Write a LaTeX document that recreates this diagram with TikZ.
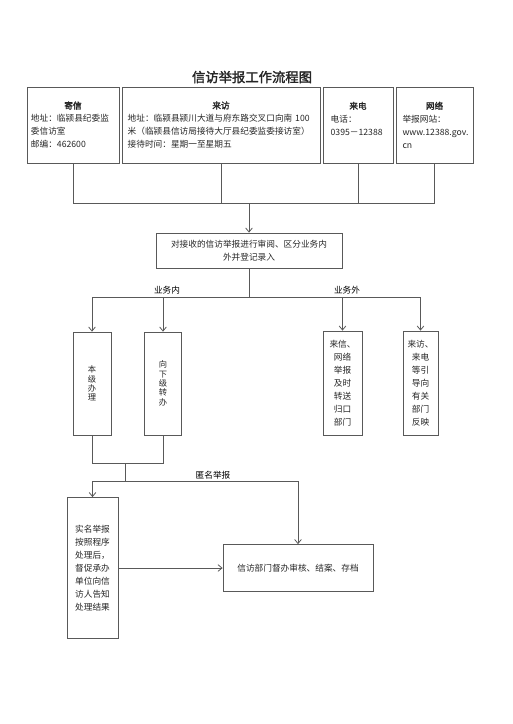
\documentclass[tikz,border=0pt]{standalone}
\usepackage{fontspec}
\setmainfont[AutoFakeBold=2]{Noto Sans CJK SC}
\usepackage{xcolor}
\usepackage{tikz}
\usetikzlibrary{arrows.meta,positioning}

\begin{document}
\begin{tikzpicture}[
    x=0.75pt, y=-0.75pt,
    font=\fontsize{6.5}{9.75}\selectfont,
    box/.style={rectangle, draw=black!65, line width=0.6pt, text=black!85, inner sep=2pt},
    info/.style={box, minimum height=57pt, align=left},
    upright/.style={box, align=center},
    line/.style={draw=black!65, line width=0.6pt},
    arrow/.style={line, -{Straight Barb[length=3pt,width=5pt]}}
  ]
    \useasboundingbox (0,0) rectangle (512,724);
    \node[font=\fontsize{10}{12}\selectfont\bfseries, text=black!85] (title) at (252,77) {信访举报工作流程图};
    % four ways in
    \node[info, minimum width=69pt, text width=63pt] (jixin) at (73,125)
      {\hspace*{\fill}\textbf{寄信}\hspace*{\fill}\null\\地址：临颍县纪委监\\委信访室\\邮编：462600};
    \node[info, minimum width=148.5pt, text width=140pt] (laifang) at (221,125)
      {\hspace*{\fill}\textbf{来访}\hspace*{\fill}\null\\地址：临颍县颍川大道与府东路交叉口向南~100\\米（临颍县信访局接待大厅县纪委监委接访室）\\接待时间：星期一至星期五};
    \node[info, minimum width=52.5pt, text width=41pt] (laidian) at (358,125)
      {\hspace*{\fill}\textbf{来电}\hspace*{\fill}\null\\电话：\\0395－12388\\\mbox{}};
    \node[info, minimum width=57.75pt, text width=48pt] (wangluo) at (434.5,125)
      {\hspace*{\fill}\textbf{网络}\hspace*{\fill}\null\\举报网站：\\www.12388.gov.\\cn};
    \node[upright, minimum width=139.5pt, minimum height=26.25pt] (dengji) at (249,250.5)
      {对接收的信访举报进行审阅、区分业务内\\外并登记录入};
    % branches
    \node (yewunei) at (167,290) {业务内};
    \node (yewuwai) at (347,290) {业务外};
    \node[upright, minimum width=28.5pt, minimum height=77.25pt, font=\fontsize{6.2}{7}\selectfont] (bjbl) at (92,383.5) {本\\级\\办\\理};
    \node[upright, minimum width=27.75pt, minimum height=77.25pt, font=\fontsize{6.2}{7}\selectfont] (xxjzb) at (163,383.5) {向\\下\\级\\转\\办};
    \node[upright, minimum width=29.25pt, minimum height=78pt] (lxzs) at (342.5,383) {来信、\\网络\\举报\\及时\\转送\\归口\\部门};
    \node[upright, minimum width=26.25pt, minimum height=78pt] (lfyd) at (420.5,383) {来访、\\来电\\等引\\导向\\有关\\部门\\反映};
    \node (niming) at (213,475) {匿名举报};
    \node[upright, minimum width=38.25pt, minimum height=105.75pt] (smjb) at (92.5,568)
      {实名举报\\按照程序\\处理后，\\督促承办\\单位向信\\访人告知\\处理结果};
    \node[upright, minimum width=112.5pt, minimum height=35.25pt] (dbsh) at (298,568)
      {信访部门督办审核、结案、存档};
    % connectors
    \coordinate (hui) at (249,203);
    \foreach \n in {jixin,laifang,laidian,wangluo}
      \draw[line] (\n.south) |- (hui);
    \draw[arrow] (hui) -- (dengji.north);
    \coordinate (fen) at (249,297);
    \draw[line] (dengji.south) -- (fen);
    \foreach \n in {bjbl,xxjzb,lxzs,lfyd}
      \draw[arrow] (fen) -| (\n.north);
    \coordinate (he) at (125,463);
    \foreach \n in {bjbl,xxjzb}
      \draw[line] (\n.south) |- (he);
    \coordinate (fen2) at (125,481);
    \draw[line] (he) -- (fen2);
    \draw[arrow] (fen2) -| (smjb.north);
    \draw[arrow] (fen2) -| (dbsh.north);
    \draw[arrow] (smjb) -- (dbsh);
  \end{tikzpicture}
\end{document}
